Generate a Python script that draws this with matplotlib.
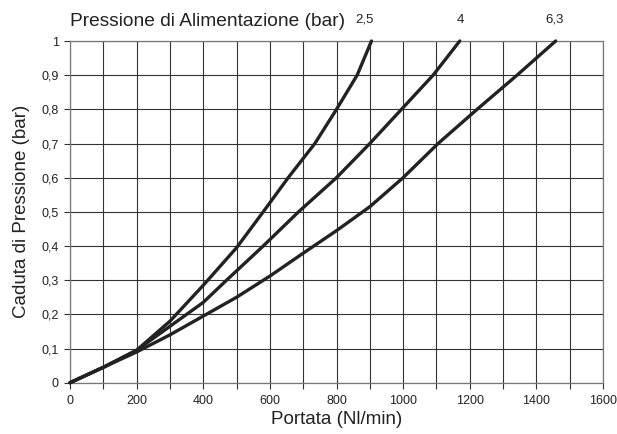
import matplotlib
matplotlib.use("Agg")
import matplotlib.pyplot as plt
from matplotlib.ticker import MultipleLocator, FuncFormatter

plt.rcParams['font.family'] = ['Liberation Sans', 'DejaVu Sans']

# Data (Portata Nl/min vs Caduta di Pressione bar)
x_25 = [0, 100, 200, 300, 400, 500, 580, 655, 735, 800, 862, 905]
y_25 = [0, 0.045, 0.095, 0.18, 0.285, 0.395, 0.5, 0.6, 0.7, 0.8, 0.9, 1.0]

x_4 = [0, 100, 200, 300, 400, 470, 580, 686, 800, 900, 995, 1090, 1170]
y_4 = [0, 0.045, 0.095, 0.165, 0.235, 0.3, 0.4, 0.5, 0.6, 0.7, 0.8, 0.9, 1.0]

x_63 = [0, 100, 200, 300, 400, 500, 600, 700, 800, 900, 1000, 1105, 1222, 1342, 1458]
y_63 = [0, 0.045, 0.09, 0.14, 0.195, 0.25, 0.312, 0.379, 0.445, 0.515, 0.6, 0.7, 0.8, 0.9, 1.0]

series_labels = ["2,5", "4", "6,3"]
x_ticks = [0, 200, 400, 600, 800, 1000, 1200, 1400, 1600]

fig = plt.figure(figsize=(6.17, 4.34), dpi=100)
ax = fig.add_axes([70/617, 1-382.7/434, (603-70)/617, (382.7-41)/434])

for xs, ys in [(x_25, y_25), (x_4, y_4), (x_63, y_63)]:
    ax.plot(xs, ys, color='#222222', lw=2.4, solid_joinstyle='round',
            solid_capstyle='round', zorder=3, clip_on=False)

ax.set_xlim(0, 1600)
ax.set_ylim(0, 1)
ax.set_xticks(x_ticks)
ax.xaxis.set_minor_locator(MultipleLocator(100))
ax.yaxis.set_major_locator(MultipleLocator(0.1))

def yfmt(v, pos):
    s = f"{v:.1f}".rstrip('0').rstrip('.')
    return s.replace('.', ',')
ax.yaxis.set_major_formatter(FuncFormatter(yfmt))

ax.grid(True, which='both', color='#333333', lw=0.8)
for s in ax.spines.values():
    s.set_color('#777777')
    s.set_linewidth(0.9)
ax.tick_params(axis='both', which='both', direction='out', length=4,
               width=0.8, color='#333333', labelsize=9, labelcolor='#222222')
ax.tick_params(axis='x', pad=5)
ax.tick_params(axis='y', pad=4)

ax.set_xlabel("Portata (Nl/min)", fontsize=13.5, color='#222222', labelpad=3)
ax.set_ylabel("Caduta di Pressione (bar)", fontsize=13.5, color='#222222', labelpad=8)

fig.text(70/617, 1-21/434, "Pressione di Alimentazione (bar)", fontsize=13.8,
         color='#222222', ha='left', va='center')
for lab, px in zip(series_labels, [364, 460, 555]):
    fig.text(px/617, 1-20/434, lab, fontsize=9.5, color='#222222',
             ha='center', va='center')

fig.savefig("out.png", dpi=100)
